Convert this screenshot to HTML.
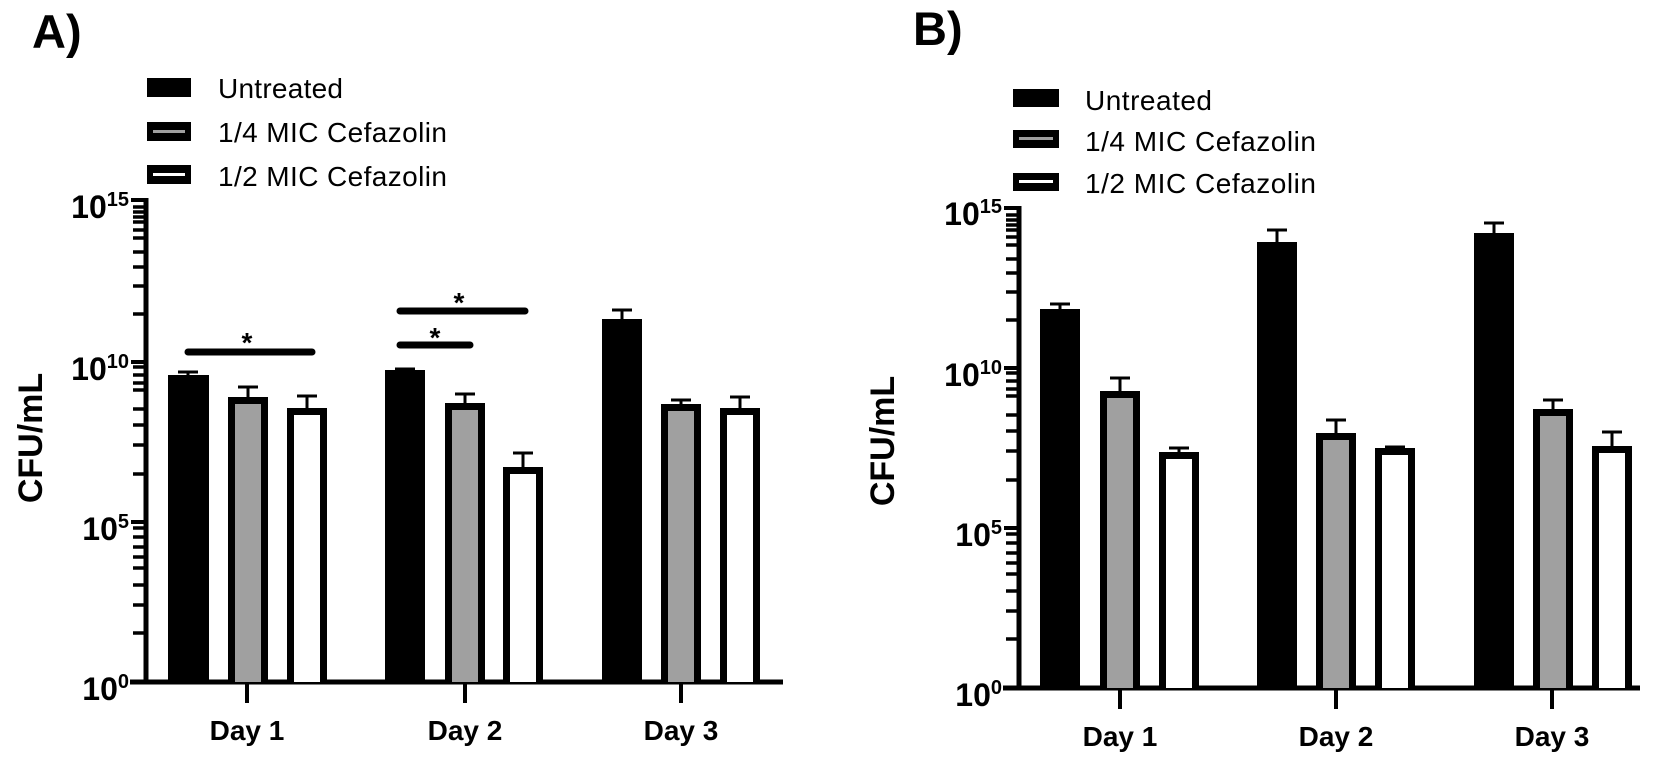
<!DOCTYPE html>
<html><head><meta charset="utf-8"><style>html,body{margin:0;padding:0;background:#fff}svg{display:block}</style></head>
<body>
<svg width="1656" height="762" viewBox="0 0 1656 762" xmlns="http://www.w3.org/2000/svg" font-family="Liberation Sans, Arial, sans-serif">
<rect width="1656" height="762" fill="#fff"/>
<text x="32" y="48" font-size="47" font-weight="bold">A)</text>
<text x="913" y="45" font-size="47" font-weight="bold">B)</text>

<g>
<rect x="147" y="78" width="44" height="19" fill="#000"/>
<rect x="147" y="122" width="44" height="19" fill="#000"/><rect x="153" y="130" width="32" height="3" fill="#a0a0a0"/>
<rect x="147" y="165" width="44" height="19" fill="#000"/><rect x="153" y="173" width="32" height="3" fill="#fff"/>
<text x="218" y="98" font-size="28" textLength="125">Untreated</text>
<text x="218" y="142" font-size="28" textLength="229">1/4 MIC Cefazolin</text>
<text x="218" y="186" font-size="28" textLength="229">1/2 MIC Cefazolin</text>
</g>
<g>
<rect x="1013" y="89" width="46" height="18" fill="#000"/>
<rect x="1013" y="130" width="46" height="18" fill="#000"/><rect x="1019" y="137" width="34" height="3" fill="#a0a0a0"/>
<rect x="1013" y="173" width="46" height="18" fill="#000"/><rect x="1019" y="180" width="34" height="3" fill="#fff"/>
<text x="1085" y="110" font-size="28" textLength="127">Untreated</text>
<text x="1085" y="151" font-size="28" textLength="231">1/4 MIC Cefazolin</text>
<text x="1085" y="193" font-size="28" textLength="231">1/2 MIC Cefazolin</text>
</g>

<text transform="translate(30,438) rotate(-90)" y="12" text-anchor="middle" font-size="34" font-weight="bold">CFU/mL</text>
<text transform="translate(882,441) rotate(-90)" y="12" text-anchor="middle" font-size="34" font-weight="bold">CFU/mL</text>

<g stroke="#000" fill="none">
<line x1="146" y1="198" x2="146" y2="684" stroke-width="5"/>
<line x1="130" y1="682" x2="783" y2="682" stroke-width="5"/>
<g stroke-width="4">
<line x1="131" y1="200" x2="146" y2="200"/><line x1="131" y1="362" x2="146" y2="362"/><line x1="131" y1="522" x2="146" y2="522"/>
<line x1="247" y1="682" x2="247" y2="703"/><line x1="465" y1="682" x2="465" y2="703"/><line x1="681" y1="682" x2="681" y2="703"/>
</g>
<g stroke-width="3.5">
<line x1="133" y1="207" x2="146" y2="207"/><line x1="133" y1="212" x2="146" y2="212"/><line x1="133" y1="217" x2="146" y2="217"/><line x1="133" y1="222" x2="146" y2="222"/><line x1="133" y1="230" x2="146" y2="230"/><line x1="133" y1="238" x2="146" y2="238"/><line x1="133" y1="252" x2="146" y2="252"/><line x1="133" y1="267" x2="146" y2="267"/><line x1="133" y1="286" x2="146" y2="286"/><line x1="133" y1="314" x2="146" y2="314"/>
<line x1="133" y1="367" x2="146" y2="367"/><line x1="133" y1="375" x2="146" y2="375"/><line x1="133" y1="383" x2="146" y2="383"/><line x1="133" y1="390" x2="146" y2="390"/><line x1="133" y1="409" x2="146" y2="409"/><line x1="133" y1="425" x2="146" y2="425"/><line x1="133" y1="445" x2="146" y2="445"/><line x1="133" y1="474" x2="146" y2="474"/>
<line x1="133" y1="528" x2="146" y2="528"/><line x1="133" y1="537" x2="146" y2="537"/><line x1="133" y1="547" x2="146" y2="547"/><line x1="133" y1="557" x2="146" y2="557"/><line x1="133" y1="568" x2="146" y2="568"/><line x1="133" y1="585" x2="146" y2="585"/><line x1="133" y1="605" x2="146" y2="605"/><line x1="133" y1="633" x2="146" y2="633"/>
</g>
</g>
<g font-size="32" font-weight="bold" text-anchor="end">
<text x="129" y="218">10<tspan font-size="20" dy="-12">15</tspan></text>
<text x="129" y="380">10<tspan font-size="20" dy="-12">10</tspan></text>
<text x="129" y="540">10<tspan font-size="20" dy="-12">5</tspan></text>
<text x="129" y="700">10<tspan font-size="20" dy="-12">0</tspan></text>
</g>
<g font-size="28" font-weight="bold" text-anchor="middle">
<text x="247" y="740">Day 1</text><text x="465" y="740">Day 2</text><text x="681" y="740">Day 3</text>
</g>

<g>
<rect x="168" y="375" width="41" height="307" fill="#000"/>
<rect x="228" y="397" width="40" height="285" fill="#000"/><rect x="235" y="404" width="26" height="278" fill="#a0a0a0"/>
<rect x="287" y="408" width="40" height="274" fill="#000"/><rect x="294" y="415" width="26" height="267" fill="#fff"/>
<rect x="385" y="370" width="40" height="312" fill="#000"/>
<rect x="445" y="403" width="40" height="279" fill="#000"/><rect x="452" y="410" width="26" height="272" fill="#a0a0a0"/>
<rect x="503" y="467" width="40" height="215" fill="#000"/><rect x="510" y="474" width="26" height="208" fill="#fff"/>
<rect x="602" y="319" width="40" height="363" fill="#000"/>
<rect x="661" y="404" width="40" height="278" fill="#000"/><rect x="668" y="411" width="26" height="271" fill="#a0a0a0"/>
<rect x="720" y="408" width="40" height="274" fill="#000"/><rect x="727" y="415" width="26" height="267" fill="#fff"/>
</g>
<g stroke="#000" stroke-width="3">
<path d="M188 375V372M178 372H198"/>
<path d="M248 397V387M238 387H258"/>
<path d="M307 408V396M297 396H317"/>
<path d="M405 370V369M395 369H415"/>
<path d="M465 403V394M455 394H475"/>
<path d="M523 467V453M513 453H533"/>
<path d="M622 319V310M612 310H632"/>
<path d="M681 404V400M671 400H691"/>
<path d="M740 408V397M730 397H750"/>
</g>
<g stroke="#000" stroke-width="7" stroke-linecap="round">
<line x1="188" y1="352" x2="312" y2="352"/>
<line x1="400" y1="345" x2="470" y2="345"/>
<line x1="400" y1="311" x2="525" y2="311"/>
</g>
<g font-size="28" font-weight="bold" text-anchor="middle">
<text x="247" y="352">*</text><text x="435" y="347">*</text><text x="459" y="312">*</text>
</g>

<g stroke="#000" fill="none">
<line x1="1019" y1="206" x2="1019" y2="690" stroke-width="5"/>
<line x1="1003" y1="688" x2="1640" y2="688" stroke-width="5"/>
<g stroke-width="4">
<line x1="1004" y1="208" x2="1019" y2="208"/><line x1="1004" y1="368" x2="1019" y2="368"/><line x1="1004" y1="528" x2="1019" y2="528"/>
<line x1="1120" y1="688" x2="1120" y2="709"/><line x1="1336" y1="688" x2="1336" y2="709"/><line x1="1552" y1="688" x2="1552" y2="709"/>
</g>
<g stroke-width="3.5">
<line x1="1006" y1="215" x2="1019" y2="215"/><line x1="1006" y1="220" x2="1019" y2="220"/><line x1="1006" y1="225" x2="1019" y2="225"/><line x1="1006" y1="230" x2="1019" y2="230"/><line x1="1006" y1="237" x2="1019" y2="237"/><line x1="1006" y1="245" x2="1019" y2="245"/><line x1="1006" y1="259" x2="1019" y2="259"/><line x1="1006" y1="273" x2="1019" y2="273"/><line x1="1006" y1="292" x2="1019" y2="292"/><line x1="1006" y1="320" x2="1019" y2="320"/>
<line x1="1006" y1="373" x2="1019" y2="373"/><line x1="1006" y1="381" x2="1019" y2="381"/><line x1="1006" y1="389" x2="1019" y2="389"/><line x1="1006" y1="396" x2="1019" y2="396"/><line x1="1006" y1="415" x2="1019" y2="415"/><line x1="1006" y1="431" x2="1019" y2="431"/><line x1="1006" y1="451" x2="1019" y2="451"/><line x1="1006" y1="480" x2="1019" y2="480"/>
<line x1="1006" y1="534" x2="1019" y2="534"/><line x1="1006" y1="543" x2="1019" y2="543"/><line x1="1006" y1="553" x2="1019" y2="553"/><line x1="1006" y1="563" x2="1019" y2="563"/><line x1="1006" y1="574" x2="1019" y2="574"/><line x1="1006" y1="591" x2="1019" y2="591"/><line x1="1006" y1="611" x2="1019" y2="611"/><line x1="1006" y1="639" x2="1019" y2="639"/>
</g>
</g>
<g font-size="32" font-weight="bold" text-anchor="end">
<text x="1002" y="225">10<tspan font-size="20" dy="-12">15</tspan></text>
<text x="1002" y="386">10<tspan font-size="20" dy="-12">10</tspan></text>
<text x="1002" y="546">10<tspan font-size="20" dy="-12">5</tspan></text>
<text x="1002" y="706">10<tspan font-size="20" dy="-12">0</tspan></text>
</g>
<g font-size="28" font-weight="bold" text-anchor="middle">
<text x="1120" y="746">Day 1</text><text x="1336" y="746">Day 2</text><text x="1552" y="746">Day 3</text>
</g>

<g>
<rect x="1040" y="309" width="40" height="379" fill="#000"/>
<rect x="1100" y="391" width="40" height="297" fill="#000"/><rect x="1107" y="398" width="26" height="290" fill="#a0a0a0"/>
<rect x="1159" y="452" width="40" height="236" fill="#000"/><rect x="1166" y="459" width="26" height="229" fill="#fff"/>
<rect x="1257" y="242" width="40" height="446" fill="#000"/>
<rect x="1316" y="433" width="40" height="255" fill="#000"/><rect x="1323" y="440" width="26" height="248" fill="#a0a0a0"/>
<rect x="1375" y="448" width="40" height="240" fill="#000"/><rect x="1382" y="455" width="26" height="233" fill="#fff"/>
<rect x="1474" y="233" width="40" height="455" fill="#000"/>
<rect x="1533" y="409" width="40" height="279" fill="#000"/><rect x="1540" y="416" width="26" height="272" fill="#a0a0a0"/>
<rect x="1592" y="446" width="40" height="242" fill="#000"/><rect x="1599" y="453" width="26" height="235" fill="#fff"/>
</g>
<g stroke="#000" stroke-width="3">
<path d="M1060 309V304M1050 304H1070"/>
<path d="M1120 391V378M1110 378H1130"/>
<path d="M1179 452V448M1169 448H1189"/>
<path d="M1277 242V230M1267 230H1287"/>
<path d="M1336 433V420M1326 420H1346"/>
<path d="M1395 448V447M1385 447H1405"/>
<path d="M1494 233V223M1484 223H1504"/>
<path d="M1553 409V400M1543 400H1563"/>
<path d="M1612 446V432M1602 432H1622"/>
</g>
</svg>
</body></html>
